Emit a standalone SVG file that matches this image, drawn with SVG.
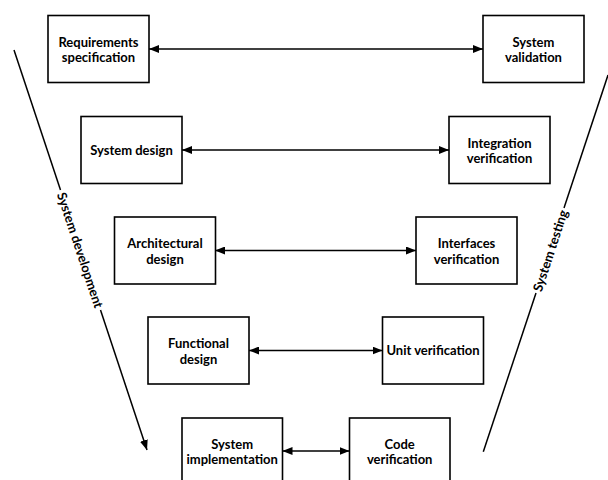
<svg xmlns="http://www.w3.org/2000/svg" width="608" height="480" viewBox="0 0 608 480">
<defs>
<style>
.box{fill:#fff;stroke:#000;stroke-width:1.6}
.lbl{font-family:Lato,"Open Sans","Liberation Sans",sans-serif;font-weight:bold;font-size:13px;fill:#000;text-anchor:middle}
.conn{stroke:#000;stroke-width:1.5;fill:none}
.side{font-family:Lato,"Open Sans","Liberation Sans",sans-serif;font-weight:bold;font-size:13px;fill:#000;text-anchor:middle;dominant-baseline:central}
</style>
<marker id="ah" viewBox="0 0 10 8" refX="10" refY="4" markerWidth="10" markerHeight="8" markerUnits="userSpaceOnUse" orient="auto-start-reverse">
<path d="M0,0 L10,4 L0,8 Z" fill="#000"/>
</marker>
</defs>
<rect width="608" height="480" fill="#fff"/>
<g id="connectors">
<line class="conn" x1="149" y1="49" x2="483" y2="49" marker-start="url(#ah)" marker-end="url(#ah)"/>
<line class="conn" x1="182" y1="150" x2="449" y2="150" marker-start="url(#ah)" marker-end="url(#ah)"/>
<line class="conn" x1="215" y1="250.5" x2="416" y2="250.5" marker-start="url(#ah)" marker-end="url(#ah)"/>
<line class="conn" x1="249" y1="350.5" x2="382.5" y2="350.5" marker-start="url(#ah)" marker-end="url(#ah)"/>
<line class="conn" x1="282.5" y1="451" x2="349.5" y2="451" marker-start="url(#ah)" marker-end="url(#ah)"/>
<line class="conn" x1="14" y1="50" x2="60.5" y2="190"/>
<line class="conn" x1="100.5" y1="310" x2="147" y2="450" marker-end="url(#ah)"/>
<line class="conn" x1="608" y1="75" x2="564" y2="208"/>
<line class="conn" x1="536" y1="293" x2="483.3" y2="451.7"/>
<text class="side" transform="translate(80.5,250) rotate(71.6)">System development</text>
<text class="side" transform="translate(550,250.5) rotate(-71.8)">System testing</text>
</g>
<g id="req">
<rect class="box" x="48" y="15.5" width="101" height="67"/>
<text class="lbl" x="98.5" y="46.5">Requirements</text>
<text class="lbl" x="98.5" y="62">specification</text>
</g>
<g id="sysval">
<rect class="box" x="483" y="15.5" width="101" height="67"/>
<text class="lbl" x="533.5" y="46.5">System</text>
<text class="lbl" x="533.5" y="62">validation</text>
</g>
<g id="sysdesign">
<rect class="box" x="81" y="116.5" width="101" height="67"/>
<text class="lbl" x="131.5" y="154.5">System design</text>
</g>
<g id="intver">
<rect class="box" x="449" y="116.5" width="101" height="67"/>
<text class="lbl" x="499.5" y="147.5">Integration</text>
<text class="lbl" x="499.5" y="163">verification</text>
</g>
<g id="archdesign">
<rect class="box" x="114.5" y="217" width="101" height="67"/>
<text class="lbl" x="165" y="248">Architectural</text>
<text class="lbl" x="165" y="263.5">design</text>
</g>
<g id="ifver">
<rect class="box" x="416" y="217" width="101" height="67"/>
<text class="lbl" x="466.5" y="248">Interfaces</text>
<text class="lbl" x="466.5" y="263.5">verification</text>
</g>
<g id="funcdesign">
<rect class="box" x="148" y="317" width="101" height="67"/>
<text class="lbl" x="198.5" y="348">Functional</text>
<text class="lbl" x="198.5" y="363.5">design</text>
</g>
<g id="unitver">
<rect class="box" x="382.5" y="317" width="101" height="67"/>
<text class="lbl" x="433" y="355">Unit verification</text>
</g>
<g id="sysimpl">
<rect class="box" x="182" y="418" width="100.5" height="67"/>
<text class="lbl" x="232.2" y="448.5">System</text>
<text class="lbl" x="232.2" y="464">implementation</text>
</g>
<g id="codever">
<rect class="box" x="349.5" y="418" width="100.5" height="67"/>
<text class="lbl" x="399.7" y="448.5">Code</text>
<text class="lbl" x="399.7" y="464">verification</text>
</g>
</svg>
